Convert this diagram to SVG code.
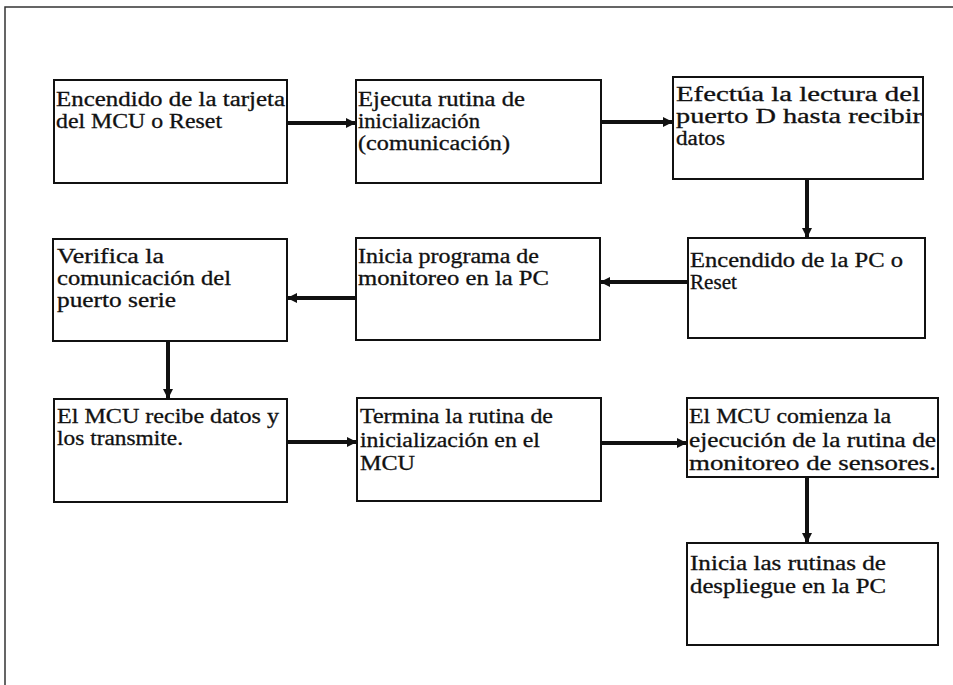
<svg xmlns="http://www.w3.org/2000/svg" width="953" height="685" viewBox="0 0 953 685">
<style>
.box{fill:#fff;stroke:#111;stroke-width:2}
.t{font-family:"Liberation Serif","Times New Roman",serif;font-size:20px;fill:#111;stroke:#111;stroke-width:0.3}
.c{fill:none;stroke:#111;stroke-width:4}
.frame{fill:none;stroke:#333;stroke-width:1.5}
</style>
<defs>
<marker id="ah" markerUnits="userSpaceOnUse" markerWidth="12" markerHeight="12" viewBox="0 0 12 12" refX="11" refY="6" orient="auto">
<path d="M1,1 L11,6 L1,11 Z" fill="#111"/>
</marker>
</defs>
<rect width="953" height="685" fill="#fff"/>
<path class="frame" d="M5,685 L5,7 L953,7"/>
<g id="n1"><rect class="box" x="54" y="80" width="233" height="103"/>
<text class="t" x="56" y="106" textLength="229" lengthAdjust="spacingAndGlyphs">Encendido de la tarjeta</text>
<text class="t" x="56" y="128" textLength="166" lengthAdjust="spacingAndGlyphs">del MCU o Reset</text></g>
<g id="n2"><rect class="box" x="356" y="80" width="245" height="103"/>
<text class="t" x="358" y="106" textLength="167" lengthAdjust="spacingAndGlyphs">Ejecuta rutina de</text>
<text class="t" x="358" y="128" textLength="122" lengthAdjust="spacingAndGlyphs">inicialización</text>
<text class="t" x="358" y="150" textLength="152" lengthAdjust="spacingAndGlyphs">(comunicación)</text></g>
<g id="n3"><rect class="box" x="673" y="77" width="250" height="102"/>
<text class="t" x="676" y="101" textLength="244" lengthAdjust="spacingAndGlyphs">Efectúa la lectura del</text>
<text class="t" x="676" y="123" textLength="246" lengthAdjust="spacingAndGlyphs">puerto D hasta recibir</text>
<text class="t" x="676" y="145" textLength="49" lengthAdjust="spacingAndGlyphs">datos</text></g>
<g id="n4"><rect class="box" x="53" y="239" width="234" height="102"/>
<text class="t" x="57" y="263" textLength="107" lengthAdjust="spacingAndGlyphs">Verifica la</text>
<text class="t" x="57" y="285" textLength="174" lengthAdjust="spacingAndGlyphs">comunicación del</text>
<text class="t" x="57" y="307" textLength="119" lengthAdjust="spacingAndGlyphs">puerto serie</text></g>
<g id="n5"><rect class="box" x="356" y="238" width="244" height="102"/>
<text class="t" x="358" y="263" textLength="181" lengthAdjust="spacingAndGlyphs">Inicia programa de</text>
<text class="t" x="358" y="285" textLength="191" lengthAdjust="spacingAndGlyphs">monitoreo en la PC</text></g>
<g id="n6"><rect class="box" x="688" y="238" width="237" height="100"/>
<text class="t" x="690" y="267" textLength="213" lengthAdjust="spacingAndGlyphs">Encendido de la PC o</text>
<text class="t" x="690" y="289" textLength="47" lengthAdjust="spacingAndGlyphs">Reset</text></g>
<g id="n7"><rect class="box" x="54" y="399" width="233" height="103"/>
<text class="t" x="57" y="423" textLength="222" lengthAdjust="spacingAndGlyphs">El MCU recibe datos y</text>
<text class="t" x="57" y="445" textLength="126" lengthAdjust="spacingAndGlyphs">los transmite.</text></g>
<g id="n8"><rect class="box" x="357" y="398" width="244" height="103"/>
<text class="t" x="360" y="423" textLength="193" lengthAdjust="spacingAndGlyphs">Termina la rutina de</text>
<text class="t" x="360" y="447" textLength="180" lengthAdjust="spacingAndGlyphs">inicialización en el</text>
<text class="t" x="360" y="470" textLength="55" lengthAdjust="spacingAndGlyphs">MCU</text></g>
<g id="n9"><rect class="box" x="687" y="398" width="251" height="79"/>
<text class="t" x="689" y="423" textLength="202" lengthAdjust="spacingAndGlyphs">El MCU comienza la</text>
<text class="t" x="689" y="447" textLength="247" lengthAdjust="spacingAndGlyphs">ejecución de la rutina de</text>
<text class="t" x="689" y="470" textLength="247" lengthAdjust="spacingAndGlyphs">monitoreo de sensores.</text></g>
<g id="n10"><rect class="box" x="687" y="543" width="251" height="102"/>
<text class="t" x="690" y="570" textLength="196" lengthAdjust="spacingAndGlyphs">Inicia las rutinas de</text>
<text class="t" x="690" y="593" textLength="196" lengthAdjust="spacingAndGlyphs">despliegue en la PC</text></g>
<g id="connectors">
<path class="c" d="M287,123 L356,123" marker-end="url(#ah)"/>
<path class="c" d="M601,122 L673,122" marker-end="url(#ah)"/>
<path class="c" d="M807,179 L807,238" marker-end="url(#ah)"/>
<path class="c" d="M688,282 L600,282" marker-end="url(#ah)"/>
<path class="c" d="M356,298 L287,298" marker-end="url(#ah)"/>
<path class="c" d="M168,341 L168,399" marker-end="url(#ah)"/>
<path class="c" d="M287,442 L357,442" marker-end="url(#ah)"/>
<path class="c" d="M601,443 L687,443" marker-end="url(#ah)"/>
<path class="c" d="M807,477 L807,543" marker-end="url(#ah)"/>
</g>
</svg>
